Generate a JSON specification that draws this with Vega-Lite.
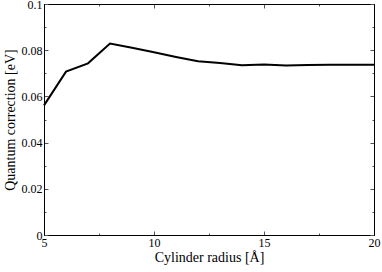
{
  "$schema": "https://vega.github.io/schema/vega-lite/v6.json",
  "width": 330,
  "height": 231,
  "autosize": {"type": "none"},
  "padding": {"left": 44, "top": 4, "right": 8, "bottom": 37},
  "background": "white",
  "config": {
    "view": {"stroke": null},
    "axis": {
      "labelFont": "Liberation Serif",
      "titleFont": "Liberation Serif",
      "labelFontSize": 12,
      "titleFontSize": 14,
      "titleFontWeight": "normal",
      "labelColor": "#000",
      "titleColor": "#000",
      "domainColor": "#000",
      "domainWidth": 1,
      "tickColor": "#555",
      "grid": false
    }
  },
  "data": {
    "values": [
      {"r": 5, "q": 0.0561},
      {"r": 6, "q": 0.0707},
      {"r": 7, "q": 0.0743},
      {"r": 8, "q": 0.0829},
      {"r": 9, "q": 0.0811},
      {"r": 10, "q": 0.0791},
      {"r": 11, "q": 0.0771},
      {"r": 12, "q": 0.0752},
      {"r": 13, "q": 0.0745},
      {"r": 14, "q": 0.0735},
      {"r": 15, "q": 0.0738},
      {"r": 16, "q": 0.0734},
      {"r": 17, "q": 0.0736},
      {"r": 18, "q": 0.0737},
      {"r": 19, "q": 0.0737},
      {"r": 20, "q": 0.0737}
    ]
  },
  "resolve": {"axis": {"x": "independent", "y": "independent"}},
  "layer": [
    {
      "mark": {"type": "line", "color": "#000", "strokeWidth": 2},
      "encoding": {
        "x": {"field": "r", "type": "quantitative", "scale": {"domain": [5, 20], "nice": false},
          "axis": {"orient": "bottom", "values": [5, 10, 15, 20], "tickSize": -4, "labelPadding": 6, "title": "Cylinder radius [Å]", "titlePadding": 2, "labelFlush": false}},
        "y": {"field": "q", "type": "quantitative", "scale": {"domain": [0, 0.1], "nice": false},
          "axis": {"orient": "left", "values": [0, 0.02, 0.04, 0.06, 0.08, 0.1], "format": "~g", "tickSize": -4, "labelPadding": 6, "title": "Quantum correction [eV]", "titlePadding": 4, "labelFlush": false}}
      }
    },
    {
      "mark": {"type": "line", "opacity": 0},
      "encoding": {
        "x": {"field": "r", "type": "quantitative", "axis": {"orient": "top", "values": [5, 10, 15, 20], "tickSize": -4, "labels": false, "title": null}},
        "y": {"field": "q", "type": "quantitative", "axis": {"orient": "right", "values": [0, 0.02, 0.04, 0.06, 0.08, 0.1], "tickSize": -4, "labels": false, "title": null}}
      }
    },
    {
      "mark": {"type": "line", "opacity": 0},
      "encoding": {
        "x": {"field": "r", "type": "quantitative", "axis": {"orient": "bottom", "values": [7.5, 12.5, 17.5], "tickSize": -2, "labels": false, "title": null}},
        "y": {"field": "q", "type": "quantitative", "axis": {"orient": "left", "values": [0.01, 0.03, 0.05, 0.07, 0.09], "tickSize": -2, "labels": false, "title": null}}
      }
    },
    {
      "mark": {"type": "line", "opacity": 0},
      "encoding": {
        "x": {"field": "r", "type": "quantitative", "axis": {"orient": "top", "values": [7.5, 12.5, 17.5], "tickSize": -2, "labels": false, "title": null}},
        "y": {"field": "q", "type": "quantitative", "axis": {"orient": "right", "values": [0.01, 0.03, 0.05, 0.07, 0.09], "tickSize": -2, "labels": false, "title": null}}
      }
    }
  ]
}
